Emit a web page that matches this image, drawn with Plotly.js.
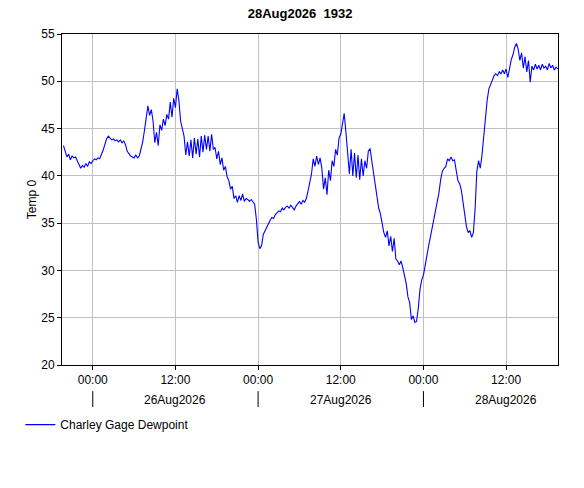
<!DOCTYPE html>
<html>
<head>
<meta charset="utf-8">
<script src="https://cdn.plot.ly/plotly-3.0.1.min.js"></script>
<style>html,body{margin:0;padding:0;background:#fff;}#chart{width:584px;height:488px;}</style>
</head>
<body>
<div id="chart"></div>
<script>
// Series: Charley Gage Dewpoint, 15-minute readings starting 25Aug2026 19:45
var seriesName = 'Charley Gage Dewpoint';
var startTime = '2026-08-25T19:45:00';
var stepMinutes = 15;
var dewpoint = [
  // 25Aug 19:45 - 23:45
  43.2,42.5,42.0,42.3,41.7,42.1,41.9,42.0,41.6,41.3,40.8,41.1,40.9,41.3,41.0,41.5,41.3,
  // 26Aug 00:00 - 05:45
  41.6,41.8,41.7,41.9,41.8,42.2,42.7,43.3,43.9,44.2,44.0,43.8,43.9,43.7,43.8,43.6,43.8,43.5,43.7,43.3,42.6,42.3,42.1,42.0,
  // 26Aug 06:00 - 11:45
  41.9,42.2,41.9,42.1,42.9,43.6,44.8,46.2,47.4,46.4,47.0,45.8,43.5,44.6,43.2,45.4,44.8,46.0,45.3,46.5,46.0,47.8,46.2,48.2,
  // 26Aug 12:00 - 17:45
  47.2,49.2,48.0,45.8,45.0,44.2,42.2,43.6,42.1,43.8,41.9,44.0,42.3,43.9,42.0,44.2,42.5,44.3,42.8,44.2,42.6,44.4,42.8,43.0,
  // 26Aug 18:00 - 23:45
  41.8,42.6,41.2,41.9,40.6,41.0,39.9,39.5,38.6,38.9,37.6,37.9,37.2,37.9,37.4,38.1,37.3,37.6,37.5,37.3,37.5,37.3,37.0,35.4,
  // 27Aug 00:00 - 05:45
  33.0,32.3,32.6,33.8,34.2,34.6,34.9,35.3,35.6,35.5,35.9,36.1,36.3,36.2,36.6,36.4,36.7,36.8,36.6,36.9,36.7,36.4,36.8,37.1,
  // 27Aug 06:00 - 11:45
  37.3,37.0,37.4,37.2,37.6,38.4,39.3,40.2,41.8,41.0,42.1,41.2,41.9,40.8,38.6,39.8,38.0,40.6,39.5,41.6,41.0,42.8,42.2,44.0,
  // 27Aug 12:00 - 17:45
  44.4,45.8,46.6,44.6,42.2,40.2,42.8,40.0,42.4,39.8,42.2,39.6,41.8,40.0,41.6,40.8,42.6,42.9,41.6,40.2,39.0,37.6,36.6,36.0,
  // 27Aug 18:00 - 23:45
  35.0,34.0,33.5,34.2,32.6,33.6,32.0,33.4,31.2,31.0,30.6,31.0,30.3,29.6,28.6,27.2,26.6,24.8,25.2,24.5,24.6,26.0,28.0,29.0,
  // 28Aug 00:00 - 05:45
  29.5,30.5,31.8,32.6,33.5,34.4,35.5,36.2,37.0,38.2,39.6,40.5,40.8,41.0,41.8,41.6,42.0,41.6,41.7,40.6,39.5,39.2,38.5,37.2,
  // 28Aug 06:00 - 11:45
  35.6,34.6,34.0,34.2,33.5,34.0,36.5,40.5,41.6,40.8,42.2,44.0,46.5,48.0,49.2,49.6,50.1,50.6,50.8,50.6,51.0,50.8,51.2,50.8,
  // 28Aug 12:00 - 19:30
  51.3,50.4,51.6,52.3,52.8,53.6,54.0,53.4,52.2,53.0,51.4,52.6,51.0,52.2,49.9,51.6,51.2,51.8,51.3,51.7,51.2,51.8,51.4,51.6,51.2,51.9,51.4,51.7,51.2,51.5,51.3
];

// Axis settings
var xRange = ['2026-08-25 19:32', '2026-08-28 19:32'];
var yRange = [20, 55];
var yTicks = [20, 25, 30, 35, 40, 45, 50, 55];
var dayStarts = ['2026-08-26 00:00', '2026-08-27 00:00', '2026-08-28 00:00'];
var dayMiddles = ['2026-08-26 12:00', '2026-08-27 12:00', '2026-08-28 12:00'];
var dayLabels = ['26Aug2026', '27Aug2026', '28Aug2026'];
var chartTitle = '28Aug2026  1932';
var yTitle = 'Temp 0';

function pad(n){return (n<10?'0':'')+n;}
var t0 = new Date(startTime + 'Z').getTime();
var times = dewpoint.map(function(v, i){
  var d = new Date(t0 + i*stepMinutes*60000);
  return d.getUTCFullYear()+'-'+pad(d.getUTCMonth()+1)+'-'+pad(d.getUTCDate())+' '+pad(d.getUTCHours())+':'+pad(d.getUTCMinutes());
});

var font = 'Liberation Sans, Arial, sans-serif';

var trace = {
  x: times, y: dewpoint, type: 'scatter', mode: 'lines', name: seriesName,
  line: {color: '#0000ff', width: 1.1}
};

var shapes = dayStarts.map(function(d){
  return {type:'line', xref:'x', yref:'paper', x0:d, x1:d, y0:-0.079, y1:-0.127,
          line:{color:'#000', width:1}};
});
var annotations = dayMiddles.map(function(d, i){
  return {x:d, xref:'x', yref:'paper', y:-0.105, yanchor:'middle', xanchor:'center',
          text:dayLabels[i], showarrow:false, font:{family:font, size:12, color:'#000'}};
});

var layout = {
  width: 584, height: 488,
  margin: {l:62, r:26, t:34, b:123, autoexpand: false},
  paper_bgcolor: '#fff', plot_bgcolor: '#fff',
  font: {family: font, size: 12, color: '#000'},
  title: {text: chartTitle, x: 0.48, xref: 'paper', xanchor: 'center', y: 0.972, yref: 'container', yanchor: 'middle',
          font: {family: font, size: 13, color: '#000', weight: 'bold'}},
  showlegend: true,
  legend: {orientation: 'h', x: -0.084, xanchor: 'left', y: -0.18, yanchor: 'middle',
           font: {family: font, size: 12, color: '#000'}, bgcolor: 'rgba(0,0,0,0)'},
  xaxis: {
    type: 'date', range: xRange, tickformat: '%H:%M', dtick: 12*3600000, tick0: '2026-08-26 00:00',
    showgrid: true, gridcolor: '#c0c0c0', gridwidth: 1,
    showline: true, linecolor: '#000', linewidth: 1, mirror: true,
    ticks: 'outside', ticklen: 4, tickcolor: '#000', zeroline: false,
    tickfont: {family: font, size: 12, color: '#000'}
  },
  yaxis: {
    range: yRange, tickvals: yTicks, showgrid: true, gridcolor: '#c0c0c0', gridwidth: 1,
    showline: true, linecolor: '#000', linewidth: 1, mirror: true,
    ticks: 'outside', ticklen: 4, tickcolor: '#000', zeroline: false,
    tickfont: {family: font, size: 12, color: '#000'},
    title: {text: yTitle, font: {family: font, size: 12, color: '#000'}, standoff: 2}
  },
  shapes: shapes,
  annotations: annotations
};

Plotly.newPlot('chart', [trace], layout, {displayModeBar: false, staticPlot: true});
</script>
</body>
</html>
